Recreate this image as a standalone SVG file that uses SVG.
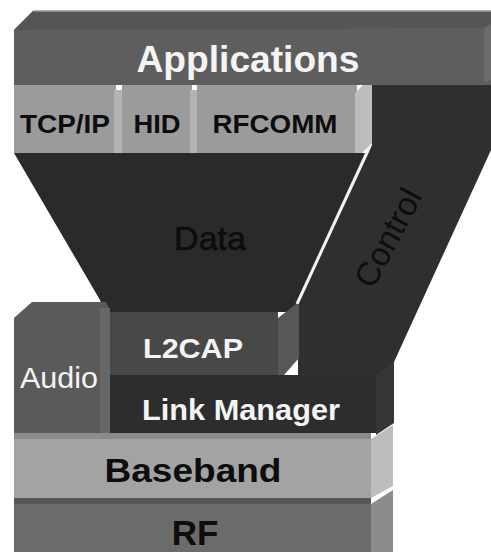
<svg xmlns="http://www.w3.org/2000/svg" width="491" height="552" viewBox="0 0 491 552">
  <style>
    text { font-family: "Liberation Sans", Arial, sans-serif; text-anchor: middle; }
    .b { font-weight: bold; }
    .w { fill: #f4f4f4; }
    .k { fill: #0d0d0d; }
  </style>
  <rect width="491" height="552" fill="#ffffff"/>

  <!-- channels between the upper and lower layers -->
  <g id="channels">
    <g id="control">
      <polygon points="372,85 491,85 491,150 394,362 394,380 298,380 298,303 372,145" fill="#2f2f2f"/>
      <text x="0" y="0" font-size="33" class="k" transform="translate(398,243) rotate(-62)">Control</text>
    </g>
    <g id="data">
      <polygon points="14,153 368,153 297,306 298,312 104,312 100,300" fill="#2a2a2a"/>
      <text x="210" y="250" font-size="34" class="k" stroke="#0d0d0d" stroke-width="0.6">Data</text>
    </g>
    <!-- white seam between data and control -->
    <line x1="370" y1="146" x2="297" y2="304" stroke="#f2f2f2" stroke-width="3"/>
  </g>

  <g id="applications">
    <polygon points="14,30 33,11 491,11 491,85 14,85" fill="#5e5e5e"/>
    <polygon points="14,30 33,11 491,11 491,28 14,30" fill="#555555"/>
    <line x1="33" y1="11" x2="491" y2="11" stroke="#9a9a9a" stroke-width="1.5"/>
    <polygon points="484,28 491,24 491,80 484,82" fill="#6c6c6c"/>
    <text x="248" y="72" font-size="36" class="b w" textLength="223" lengthAdjust="spacingAndGlyphs">Applications</text>
  </g>

  <g id="tcpip">
    <rect x="14" y="85" width="102" height="68" fill="#9b9b9b"/>
    <rect x="114" y="90" width="8" height="63" fill="#b4b4b4"/>
    <text x="65" y="133" font-size="25" class="b k" textLength="90" lengthAdjust="spacingAndGlyphs">TCP/IP</text>
  </g>
  <g id="hid">
    <rect x="122" y="85" width="70" height="68" fill="#9b9b9b"/>
    <rect x="190" y="90" width="7" height="63" fill="#b4b4b4"/>
    <text x="157" y="133" font-size="25" class="b k" textLength="47" lengthAdjust="spacingAndGlyphs">HID</text>
  </g>
  <g id="rfcomm">
    <rect x="197" y="85" width="160" height="68" fill="#9b9b9b"/>
    <polygon points="355,93 363,85 372,85 372,143 362,153 355,153" fill="#bdbdbd"/>
    <text x="275" y="133" font-size="25" class="b k" textLength="125" lengthAdjust="spacingAndGlyphs">RFCOMM</text>
  </g>

  <g id="audio">
    <polygon points="14,318 32,302 106,302 110,310 110,433 14,433" fill="#5a5a5a"/>
    <rect x="100" y="308" width="10" height="125" fill="#676767"/>
    <text x="59" y="388" font-size="29" class="w" textLength="78" lengthAdjust="spacingAndGlyphs">Audio</text>
  </g>

  <g id="l2cap">
    <rect x="110" y="312" width="168" height="63" fill="#484848"/>
    <polygon points="278,318 296,304 299,304 299,358 284,375 278,375" fill="#575757"/>
    <text x="193" y="358" font-size="28" class="b w" textLength="100" lengthAdjust="spacingAndGlyphs">L2CAP</text>
  </g>

  <g id="linkmanager">
    <rect x="110" y="375" width="266" height="58" fill="#2d2d2d"/>
    <polygon points="376,375 394,362 394,423 376,435" fill="#363636"/>
    <text x="241" y="420" font-size="30" class="b w" textLength="198" lengthAdjust="spacingAndGlyphs">Link Manager</text>
  </g>

  <g id="baseband">
    <rect x="14" y="433" width="357" height="65" fill="#a3a3a3"/>
    <rect x="14" y="433" width="357" height="6" fill="#8b8b8b"/>
    <polygon points="371,439 393,425 393,486 371,498" fill="#bdbdbd"/>
    <text x="193" y="482" font-size="34" class="b k" textLength="177" lengthAdjust="spacingAndGlyphs">Baseband</text>
  </g>

  <g id="rf">
    <rect x="14" y="498" width="357" height="54" fill="#6b6b6b"/>
    <rect x="14" y="498" width="357" height="6" fill="#575757"/>
    <polygon points="371,504 393,490 393,552 371,552" fill="#8c8c8c"/>
    <text x="195" y="545" font-size="35" class="b k">RF</text>
  </g>
</svg>
